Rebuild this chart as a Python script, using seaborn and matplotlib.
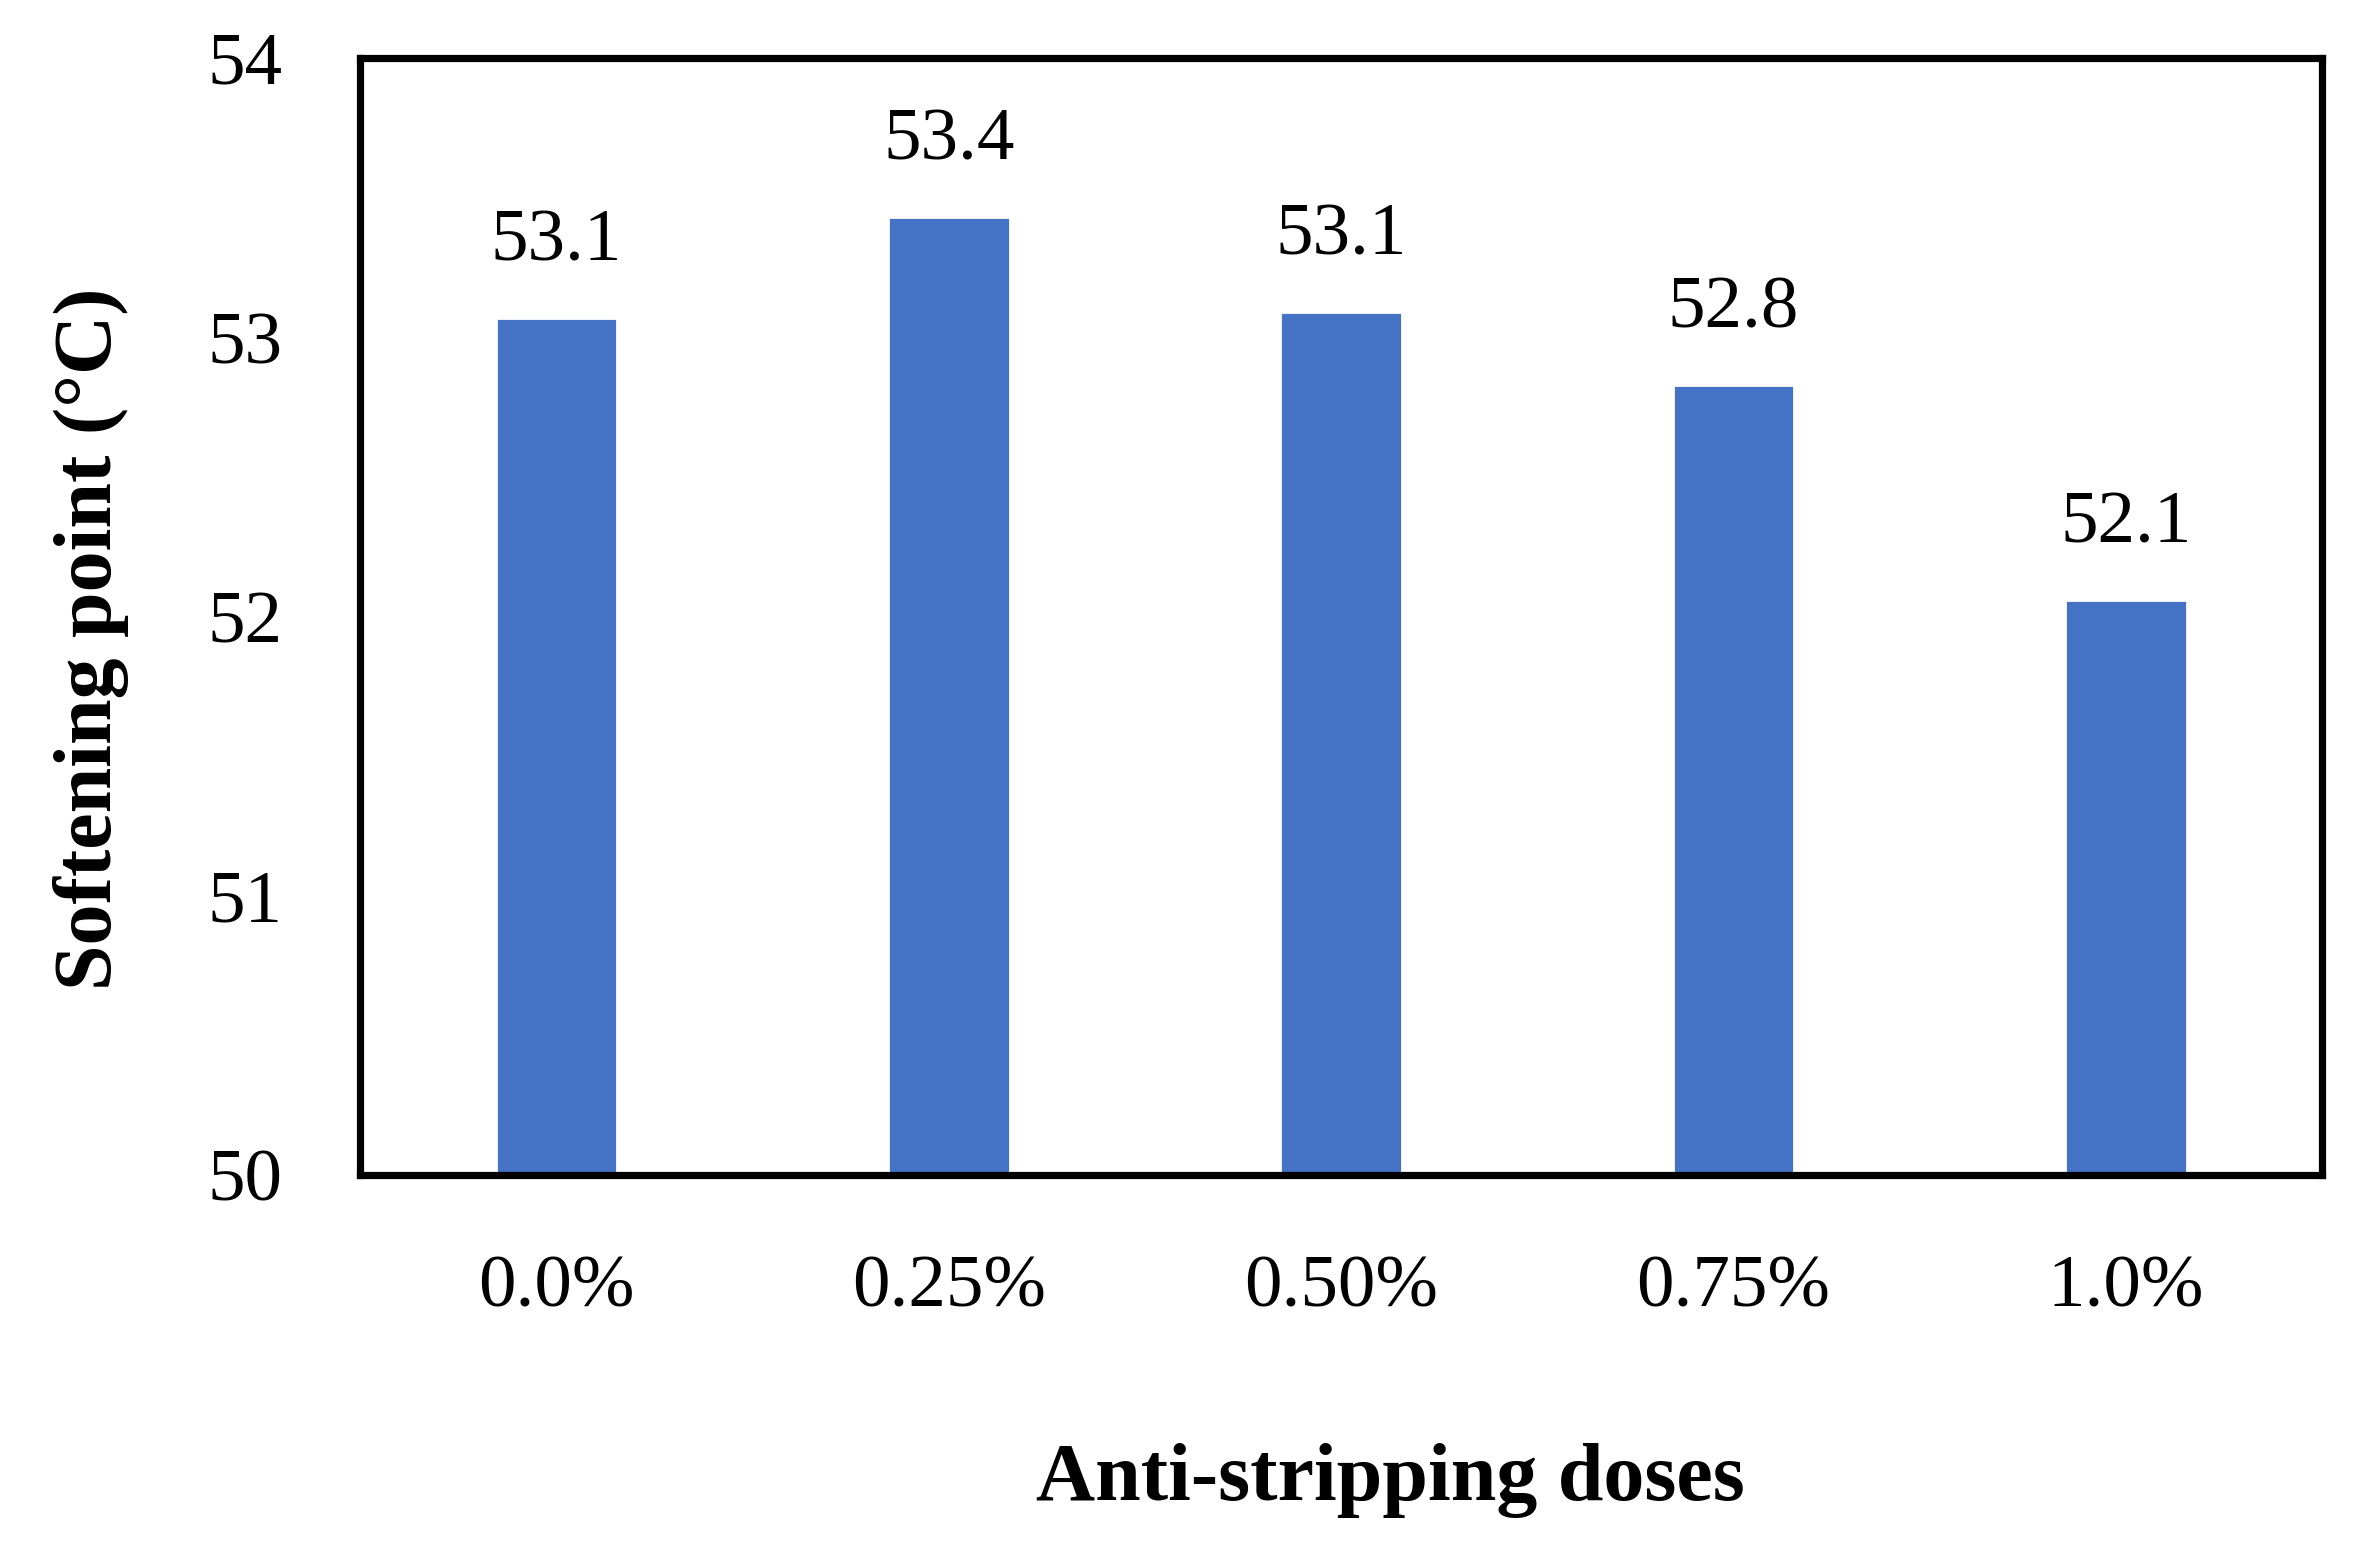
import numpy as np
import pandas as pd
import matplotlib
matplotlib.use("Agg")
import matplotlib.pyplot as plt
import seaborn as sns

# Data
doses = ["0.0%", "0.25%", "0.50%", "0.75%", "1.0%"]
softening = [53.07, 53.43, 53.09, 52.83, 52.06]
value_labels = ["53.1", "53.4", "53.1", "52.8", "52.1"]
y_ticks = [50, 51, 52, 53, 54]

sns.set_theme(style="white")
plt.rcParams["font.family"] = ["Liberation Serif", "DejaVu Serif"]
plt.rcParams["text.color"] = "black"
plt.rcParams["axes.labelcolor"] = "black"

fig, ax = plt.subplots(figsize=(11.8, 7.74), dpi=200)
fig.subplots_adjust(left=0.1526, right=0.984, top=0.9625, bottom=0.241)

df = pd.DataFrame({"dose": doses, "value": softening})
sns.barplot(data=df, x="dose", y="value", color="#4472C4", saturation=1,
            width=0.31, ax=ax)

ax.set_ylim(50, 54)
ax.set_xlim(-0.5, 4.5)
ax.set_yticks(y_ticks)
ax.tick_params(axis="both", length=0, labelsize=27, colors="black")
ax.tick_params(axis="y", pad=28)
ax.tick_params(axis="x", pad=29)

ax.bar_label(ax.containers[0], labels=value_labels, padding=15, fontsize=27,
             color="black")

ax.set_xlabel("Anti-stripping doses", fontsize=29.5, fontweight="bold",
              color="black")
ax.set_ylabel("Softening point (°C)", fontsize=29.5, fontweight="bold",
              color="black")
# labels sit slightly off-centre in the original
ax.xaxis.set_label_coords(0.525, -0.24)
ax.yaxis.set_label_coords(-0.118, 0.48)

for s in ax.spines.values():
    s.set_visible(True)
    s.set_color("black")
    s.set_linewidth(2.6)

fig.savefig("out.png", dpi=200, facecolor="white")
